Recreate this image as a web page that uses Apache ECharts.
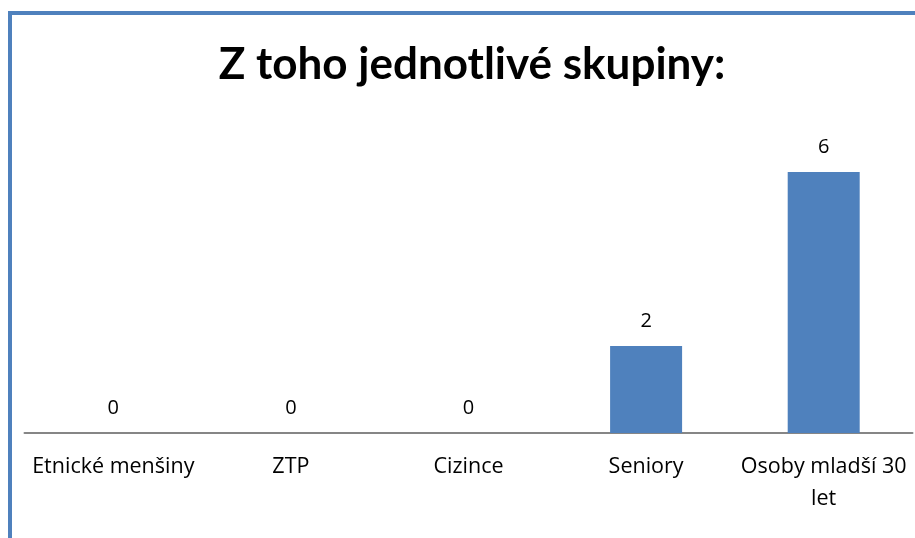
<!DOCTYPE html>
<html lang="cs">
<head>
<meta charset="UTF-8">
<title>Z toho jednotlivé skupiny</title>
<script src="https://cdn.jsdelivr.net/npm/echarts@6/dist/echarts.min.js"></script>
<style>
    html, body { margin: 0; padding: 0; background: #fff; }
    #chart { width: 915px; height: 538px; }
</style>
</head>
<body>
<div id="chart"></div>
<script>
    var categories = ['Etnické menšiny', 'ZTP', 'Cizince', 'Seniory', 'Osoby mladší 30\nlet'];
    var values = [0, 0, 0, 2, 6];

    var chart = echarts.init(document.getElementById('chart'));

    chart.setOption({
        animation: false,
        backgroundColor: '#fff',
        textStyle: { fontFamily: 'Open Sans' },
        title: {
            text: 'Z toho jednotlivé skupiny:',
            left: 467,
            top: 38,
            textAlign: 'center',
            textStyle: { fontFamily: 'Lato', fontWeight: 'bold', fontSize: 44, color: '#000' }
        },
        graphic: [{
            type: 'rect',
            shape: { x: 10, y: 13, width: 1000, height: 1000 },
            style: { fill: 'none', stroke: '#4F81BD', lineWidth: 4 },
            silent: true
        }],
        grid: { left: 24.5, right: 2.5, top: 128.5, bottom: 105 },
        xAxis: {
            type: 'category',
            data: categories,
            axisLine: { lineStyle: { color: '#868686', width: 2 } },
            axisTick: { show: false },
            axisLabel: {
                color: '#000',
                fontFamily: 'Open Sans',
                fontSize: 21.5,
                margin: 18,
                lineHeight: 32,
                interval: 0
            }
        },
        yAxis: {
            type: 'value',
            min: 0,
            max: 7,
            show: false
        },
        series: [{
            type: 'bar',
            data: values,
            barWidth: 72,
            itemStyle: { color: '#4F81BD' },
            label: {
                show: true,
                position: 'top',
                distance: 15,
                color: '#000',
                fontFamily: 'Open Sans',
                fontSize: 20
            }
        }]
    });
</script>
</body>
</html>
